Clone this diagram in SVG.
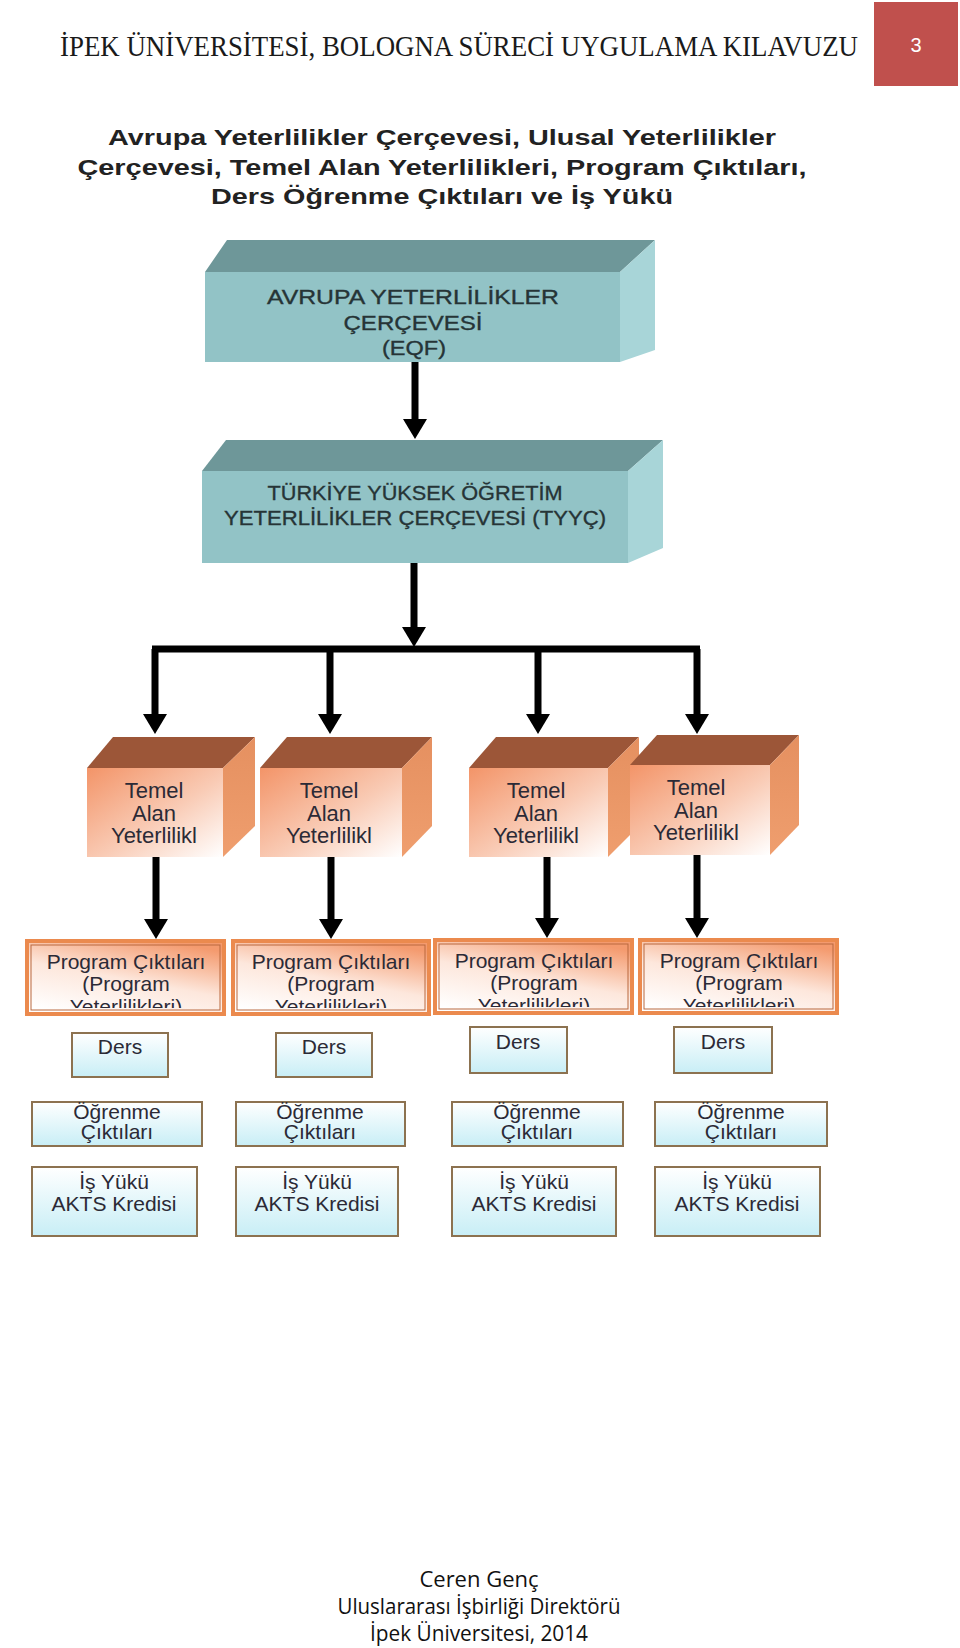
<svg xmlns="http://www.w3.org/2000/svg" width="960" height="1648" viewBox="0 0 960 1648">
<defs>
<style>
.hdr{font-family:"Liberation Serif","DejaVu Serif",serif;font-size:26px;fill:#1a1a1a}
.sub{font-family:"Liberation Sans",Arial,sans-serif;font-weight:bold;font-size:22px;fill:#222;text-anchor:middle}
.tl{font-family:"Liberation Sans",Arial,sans-serif;font-size:21px;fill:#263436;stroke:#263436;stroke-width:0.35;text-anchor:middle}
.or{font-family:"Liberation Sans",Arial,sans-serif;font-size:21px;fill:#2b2a36;text-anchor:middle}
.tm{font-size:22px}
.foot{font-family:"Open Sans","Liberation Sans",sans-serif;font-size:22px;fill:#111;text-anchor:middle}
.tfront{fill:#92c3c6}
.ttop{fill:#6e9799}
.tright{fill:#a8d5d8}
.otop{fill:#9c5638}
.oright{fill:url(#gOR)}
.ofront{fill:url(#gOF)}
.prog{fill:url(#gPR);stroke:#eb8a4e;stroke-width:4}
.progin{fill:none;stroke:#b9683f;stroke-width:1}
.lb{fill:url(#gLB);stroke:#8c7250;stroke-width:2}
.conn{stroke:#000;stroke-width:7;fill:none}
</style>
<linearGradient id="gOF" x1="0" y1="0" x2="1" y2="1">
<stop offset="0" stop-color="#f39468"/>
<stop offset="0.55" stop-color="#f9cbb5"/>
<stop offset="1" stop-color="#ffffff"/>
</linearGradient>
<linearGradient id="gOR" x1="0" y1="0" x2="0" y2="1">
<stop offset="0" stop-color="#e59060"/>
<stop offset="1" stop-color="#ef9e6e"/>
</linearGradient>
<linearGradient id="gPR" x1="0.2" y1="1" x2="0.7" y2="0">
<stop offset="0" stop-color="#ffffff"/>
<stop offset="0.5" stop-color="#fde7dc"/>
<stop offset="1" stop-color="#f49a6e"/>
</linearGradient>
<linearGradient id="gLB" x1="0" y1="0" x2="0" y2="1">
<stop offset="0" stop-color="#ffffff"/>
<stop offset="1" stop-color="#c8eef6"/>
</linearGradient>
<marker id="ah" markerUnits="userSpaceOnUse" markerWidth="26" markerHeight="26" viewBox="0 -13 22 26" refX="2" refY="0" orient="auto">
<path d="M0,-12 L20,0 L0,12 z" fill="#000"/>
</marker>
<clipPath id="c1"><rect x="27" y="941" width="197" height="67"/></clipPath>
<clipPath id="c2"><rect x="233" y="941" width="196" height="67"/></clipPath>
<clipPath id="c3"><rect x="435" y="940" width="197" height="67"/></clipPath>
<clipPath id="c4"><rect x="640" y="940" width="197" height="67"/></clipPath>
</defs>
<rect width="960" height="1648" fill="#fff"/>

<g id="header">
<text class="hdr" x="60" y="50.2" transform="scale(1,1.115)" textLength="798" lengthAdjust="spacingAndGlyphs">İPEK ÜNİVERSİTESİ, BOLOGNA SÜRECİ UYGULAMA KILAVUZU</text>
<rect x="874" y="2" width="84" height="84" fill="#c0504d"/>
<text x="916" y="52" font-family="Liberation Sans,Arial,sans-serif" font-size="20" fill="#fff" text-anchor="middle">3</text>
</g>

<g id="subtitle">
<text class="sub" x="442" y="145" textLength="668" lengthAdjust="spacingAndGlyphs">Avrupa Yeterlilikler Çerçevesi, Ulusal Yeterlilikler</text>
<text class="sub" x="442" y="175" textLength="729" lengthAdjust="spacingAndGlyphs">Çerçevesi, Temel Alan Yeterlilikleri, Program Çıktıları,</text>
<text class="sub" x="442" y="204" textLength="462" lengthAdjust="spacingAndGlyphs">Ders Öğrenme Çıktıları ve İş Yükü</text>
</g>

<g id="connectors">
<path class="conn" d="M415,362 V421" marker-end="url(#ah)"/>
<path class="conn" d="M414,563 V629" marker-end="url(#ah)"/>
<path class="conn" d="M152,649 H700"/>
<path class="conn" d="M155,649 V716" marker-end="url(#ah)"/>
<path class="conn" d="M330,649 V716" marker-end="url(#ah)"/>
<path class="conn" d="M538,649 V716" marker-end="url(#ah)"/>
<path class="conn" d="M697,649 V716" marker-end="url(#ah)"/>
<path class="conn" d="M156,857 V921" marker-end="url(#ah)"/>
<path class="conn" d="M331,857 V921" marker-end="url(#ah)"/>
<path class="conn" d="M547,857 V920" marker-end="url(#ah)"/>
<path class="conn" d="M697,855 V920" marker-end="url(#ah)"/>
</g>

<g id="eqf">
<polygon class="ttop" points="205,272 227,240 655,240 620,272"/>
<polygon class="tright" points="620,272 655,240 655,350 620,362"/>
<rect class="tfront" x="205" y="272" width="415" height="90"/>
<text class="tl" x="413" y="304" textLength="292" lengthAdjust="spacingAndGlyphs">AVRUPA YETERLİLİKLER</text>
<text class="tl" x="413" y="330" textLength="139" lengthAdjust="spacingAndGlyphs">ÇERÇEVESİ</text>
<text class="tl" x="414" y="355" textLength="64" lengthAdjust="spacingAndGlyphs">(EQF)</text>
</g>

<g id="tyyc">
<polygon class="ttop" points="202,471 226,440 663,440 628,471"/>
<polygon class="tright" points="628,471 663,440 663,548 628,563"/>
<rect class="tfront" x="202" y="471" width="426" height="92"/>
<text class="tl" x="415" y="500" textLength="295" lengthAdjust="spacingAndGlyphs">TÜRKİYE YÜKSEK ÖĞRETİM</text>
<text class="tl" x="415" y="525" textLength="382" lengthAdjust="spacingAndGlyphs">YETERLİLİKLER ÇERÇEVESİ  (TYYÇ)</text>
</g>

<g id="temel1">
<polygon class="otop" points="87,768 113,737 255,737 223,768"/>
<polygon class="oright" points="223,768 255,737 255,826 223,857"/>
<rect class="ofront" x="87" y="768" width="136" height="89"/>
<text class="or tm" x="154" y="798">Temel</text>
<text class="or tm" x="154" y="821">Alan</text>
<text class="or tm" x="154" y="843">Yeterlilikl</text>
</g>
<g id="temel2">
<polygon class="otop" points="260,768 287,737 432,737 402,768"/>
<polygon class="oright" points="402,768 432,737 432,826 402,857"/>
<rect class="ofront" x="260" y="768" width="142" height="89"/>
<text class="or tm" x="329" y="798">Temel</text>
<text class="or tm" x="329" y="821">Alan</text>
<text class="or tm" x="329" y="843">Yeterlilikl</text>
</g>
<g id="temel3">
<polygon class="otop" points="469,768 496,737 639,737 608,768"/>
<polygon class="oright" points="608,768 639,737 639,826 608,857"/>
<rect class="ofront" x="469" y="768" width="139" height="89"/>
<text class="or tm" x="536" y="798">Temel</text>
<text class="or tm" x="536" y="821">Alan</text>
<text class="or tm" x="536" y="843">Yeterlilikl</text>
</g>
<g id="temel4">
<polygon class="otop" points="630,765 657,735 799,735 770,765"/>
<polygon class="oright" points="770,765 799,735 799,825 770,855"/>
<rect class="ofront" x="630" y="765" width="140" height="90"/>
<text class="or tm" x="696" y="795">Temel</text>
<text class="or tm" x="696" y="818">Alan</text>
<text class="or tm" x="696" y="840">Yeterlilikl</text>
</g>

<g id="program1">
<rect class="prog" x="27" y="941" width="197" height="73"/>
<rect class="progin" x="31" y="945" width="189" height="65"/>
<g clip-path="url(#c1)">
<text class="or" x="126" y="969">Program Çıktıları</text>
<text class="or" x="126" y="991">(Program</text>
<text class="or" x="126" y="1014">Yeterlilikleri)</text>
</g>
</g>
<g id="program2">
<rect class="prog" x="233" y="941" width="196" height="73"/>
<rect class="progin" x="237" y="945" width="188" height="65"/>
<g clip-path="url(#c2)">
<text class="or" x="331" y="969">Program Çıktıları</text>
<text class="or" x="331" y="991">(Program</text>
<text class="or" x="331" y="1014">Yeterlilikleri)</text>
</g>
</g>
<g id="program3">
<rect class="prog" x="435" y="940" width="197" height="73"/>
<rect class="progin" x="439" y="944" width="189" height="65"/>
<g clip-path="url(#c3)">
<text class="or" x="534" y="968">Program Çıktıları</text>
<text class="or" x="534" y="990">(Program</text>
<text class="or" x="534" y="1013">Yeterlilikleri)</text>
</g>
</g>
<g id="program4">
<rect class="prog" x="640" y="940" width="197" height="73"/>
<rect class="progin" x="644" y="944" width="189" height="65"/>
<g clip-path="url(#c4)">
<text class="or" x="739" y="968">Program Çıktıları</text>
<text class="or" x="739" y="990">(Program</text>
<text class="or" x="739" y="1013">Yeterlilikleri)</text>
</g>
</g>

<g id="ders1"><rect class="lb" x="72" y="1033" width="96" height="44"/><text class="or" x="120" y="1054">Ders</text></g>
<g id="ders2"><rect class="lb" x="276" y="1033" width="96" height="44"/><text class="or" x="324" y="1054">Ders</text></g>
<g id="ders3"><rect class="lb" x="470" y="1027" width="97" height="46"/><text class="or" x="518" y="1049">Ders</text></g>
<g id="ders4"><rect class="lb" x="674" y="1027" width="98" height="46"/><text class="or" x="723" y="1049">Ders</text></g>

<g id="ogrenme1"><rect class="lb" x="32" y="1102" width="170" height="44"/><text class="or" x="117" y="1119" font-size="20">Öğrenme</text><text class="or" x="117" y="1139" font-size="20">Çıktıları</text></g>
<g id="ogrenme2"><rect class="lb" x="236" y="1102" width="169" height="44"/><text class="or" x="320" y="1119" font-size="20">Öğrenme</text><text class="or" x="320" y="1139" font-size="20">Çıktıları</text></g>
<g id="ogrenme3"><rect class="lb" x="452" y="1102" width="171" height="44"/><text class="or" x="537" y="1119" font-size="20">Öğrenme</text><text class="or" x="537" y="1139" font-size="20">Çıktıları</text></g>
<g id="ogrenme4"><rect class="lb" x="655" y="1102" width="172" height="44"/><text class="or" x="741" y="1119" font-size="20">Öğrenme</text><text class="or" x="741" y="1139" font-size="20">Çıktıları</text></g>

<g id="isyuku1"><rect class="lb" x="32" y="1167" width="165" height="69"/><text class="or" x="114" y="1189">İş Yükü</text><text class="or" x="114" y="1211">AKTS Kredisi</text></g>
<g id="isyuku2"><rect class="lb" x="236" y="1167" width="162" height="69"/><text class="or" x="317" y="1189">İş Yükü</text><text class="or" x="317" y="1211">AKTS Kredisi</text></g>
<g id="isyuku3"><rect class="lb" x="452" y="1167" width="164" height="69"/><text class="or" x="534" y="1189">İş Yükü</text><text class="or" x="534" y="1211">AKTS Kredisi</text></g>
<g id="isyuku4"><rect class="lb" x="655" y="1167" width="165" height="69"/><text class="or" x="737" y="1189">İş Yükü</text><text class="or" x="737" y="1211">AKTS Kredisi</text></g>

<g id="footer">
<text class="foot" x="479" y="1587">Ceren Genç</text>
<text class="foot" x="479" y="1614" textLength="283" lengthAdjust="spacingAndGlyphs">Uluslararası İşbirliği Direktörü</text>
<text class="foot" x="479" y="1641" textLength="218" lengthAdjust="spacingAndGlyphs">İpek Üniversitesi, 2014</text>
</g>
</svg>
